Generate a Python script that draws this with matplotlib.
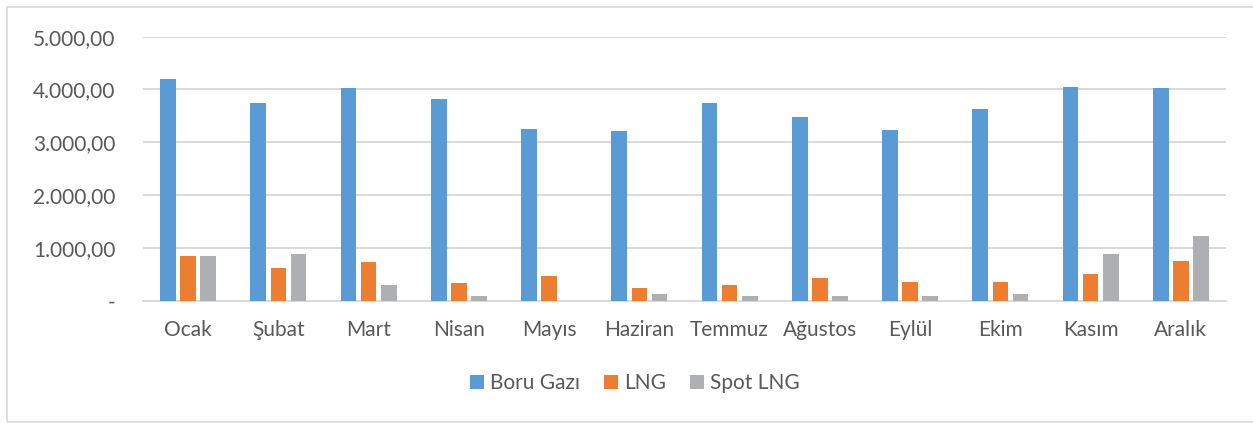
import numpy as np
import matplotlib
matplotlib.use("Agg")
import matplotlib.pyplot as plt
from matplotlib.patches import Rectangle
from matplotlib.ticker import FuncFormatter

plt.rcParams['font.family'] = ['Lato', 'DejaVu Sans']

# data
months = ["Ocak", "Şubat", "Mart", "Nisan", "Mayıs", "Haziran",
          "Temmuz", "Ağustos", "Eylül", "Ekim", "Kasım", "Aralık"]
boru_gazi = [4200, 3750, 4034, 3820, 3258, 3220, 3739, 3485, 3233, 3636, 4041, 4022]
lng = [847, 613, 739, 329, 462, 246, 297, 424, 354, 360, 511, 746]
spot_lng = [852, 879, 297, 95, 0, 127, 95, 95, 89, 133, 890, 1225]
series_names = ["Boru Gazı", "LNG", "Spot LNG"]
y_ticks = [0, 1000, 2000, 3000, 4000, 5000]

colors = ["#5B9BD5", "#ED7D31", "#AEAFB2"]
text_col = "#595959"
grid_col = "#D9D9D9"

W, H = 1253, 423
fig = plt.figure(figsize=(W / 100, H / 100), dpi=100)
ax = fig.add_axes([143 / W, 1 - 300.7 / H, (1226 - 143) / W, (300.7 - 36.7) / H])

# outer chart border (Excel style)
fig.patches.append(Rectangle((7 / W, 1.5 / H), 1.2, (H - 8.5) / H, transform=fig.transFigure,
                             fill=False, edgecolor=grid_col, linewidth=1.2))

x = np.arange(len(months))
bw = 0.174
step = 0.222
for i, (vals, name) in enumerate(zip([boru_gazi, lng, spot_lng], series_names)):
    ax.bar(x + (i - 1) * step, vals, width=bw, color=colors[i], label=name, zorder=3)

ax.set_xlim(-0.5, len(months) - 0.5)
ax.set_ylim(0, 5000)
ax.set_yticks(y_ticks)


def fmt(v, pos):
    if v == 0:
        return "-"
    s = f"{v:,.2f}"
    return s.replace(",", "X").replace(".", ",").replace("X", ".")


ax.yaxis.set_major_formatter(FuncFormatter(fmt))
ax.set_xticks(x)
ax.set_xticklabels(months)
ax.tick_params(axis='y', length=0, pad=20, labelsize=15, labelcolor=text_col)
ax.tick_params(axis='x', length=0, pad=14, labelsize=15, labelcolor=text_col)

ax.grid(axis='y', color=grid_col, linewidth=1.4, zorder=0)
for side in ["top", "right", "left"]:
    ax.spines[side].set_visible(False)
ax.spines["bottom"].set_color(grid_col)
ax.spines["bottom"].set_linewidth(1.4)

fig.legend(loc='center', bbox_to_anchor=(635 / W, 1 - 383 / H), ncol=3, frameon=False,
           fontsize=15, labelcolor=text_col, handlelength=0.67, handleheight=0.67,
           handletextpad=0.3, columnspacing=1.15)

plt.savefig("out.png", dpi=100)
plt.close()
